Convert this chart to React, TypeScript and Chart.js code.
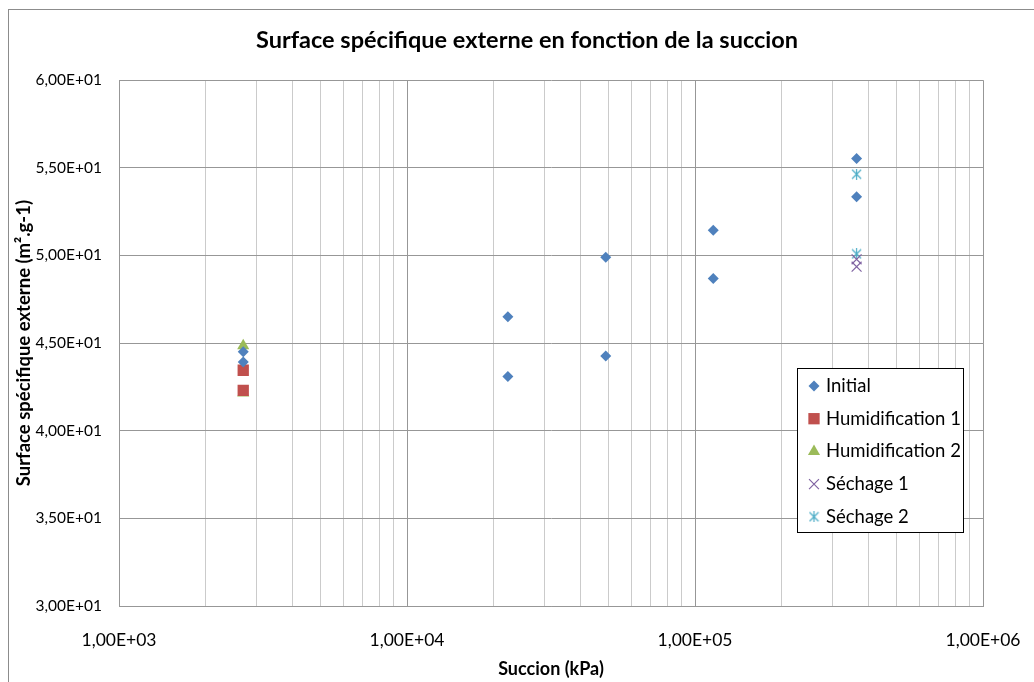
import React, { useEffect, useRef } from 'react';
import { Chart, registerables } from 'chart.js';
import { drawPoint } from 'chart.js/helpers';

Chart.register(...registerables);

// ---------- data ----------
const seriesNames = ['Initial', 'Humidification 1', 'Humidification 2', 'Séchage 1', 'Séchage 2'];

const initialX = [2700, 2700, 22400, 22400, 49000, 49000, 115700, 115700, 364000, 364000];
const initialY = [44.5, 43.92, 46.51, 43.1, 49.9, 44.26, 51.44, 48.69, 55.53, 53.35];

const humid1X = [2700, 2700];
const humid1Y = [43.45, 42.3];

const humid2X = [2700, 2700];
const humid2Y = [44.85, 42.15];

const sech1X = [364000, 364000];
const sech1Y = [49.78, 49.36];

const sech2X = [364000, 364000];
const sech2Y = [54.64, 50.09];

const xMajorTicks = [1e3, 1e4, 1e5, 1e6];
const yTickValues = [30, 35, 40, 45, 50, 55, 60];

const titleText = 'Surface spécifique externe en fonction de la succion';
const xTitle = 'Succion (kPa)';
const yTitle = 'Surface spécifique externe (m².g-1)';

// ---------- styles ----------
const FONT = 'Lato';
const MAJOR = '#979797';
const MINOR = '#cbcbcb';
const colors = ['#4F81BD', '#C0504D', '#9BBB59', '#8064A2', '#4BACC6'];

function sci(v: number): string {
  const e = Math.floor(Math.log10(v) + 1e-9);
  const m = v / Math.pow(10, e);
  return `${m.toFixed(2).replace('.', ',')}E${e < 0 ? '-' : '+'}${String(Math.abs(e)).padStart(2, '0')}`;
}

function isPow10(v: number): boolean {
  return xMajorTicks.some((t) => Math.abs(t - v) < 1e-6 * t);
}

function xGridValues(): number[] {
  const out: number[] = [];
  for (let i = 0; i < xMajorTicks.length - 1; i++) {
    for (let k = 1; k <= 9; k++) out.push(k * xMajorTicks[i]);
  }
  out.push(xMajorTicks[xMajorTicks.length - 1]);
  return out;
}

function makeAsterisk(color: string): HTMLCanvasElement {
  const c = document.createElement('canvas');
  c.width = 11;
  c.height = 11;
  const g = c.getContext('2d')!;
  g.strokeStyle = color;
  g.lineWidth = 1.2;
  g.beginPath();
  g.moveTo(1, 1);
  g.lineTo(10, 10);
  g.moveTo(10, 1);
  g.lineTo(1, 10);
  g.moveTo(5.5, 0);
  g.lineTo(5.5, 11);
  g.stroke();
  return c;
}

const framePlugin = {
  id: 'frame',
  beforeDraw(chart: any) {
    const { ctx, width, height } = chart;
    ctx.save();
    ctx.fillStyle = '#ffffff';
    ctx.fillRect(0, 0, width, height);
    ctx.strokeStyle = '#8c8c8c';
    ctx.lineWidth = 1;
    ctx.strokeRect(8.5, 9.5, width + 50, height + 50);
    ctx.restore();
  },
};

const legendPlugin = {
  id: 'boxLegend',
  afterDraw(chart: any) {
    const { ctx, chartArea } = chart;
    const x0 = Math.round(chartArea.right - 186);
    const y0 = Math.round(chartArea.top + 288);
    const w = 166;
    const h = 164;
    ctx.save();
    ctx.fillStyle = '#ffffff';
    ctx.fillRect(x0, y0, w, h);
    ctx.strokeStyle = '#000000';
    ctx.lineWidth = 1;
    ctx.strokeRect(x0 + 0.5, y0 + 0.5, w, h);
    chart.data.datasets.forEach((ds: any, i: number) => {
      const cy = y0 + 18 + i * 32.7;
      ctx.fillStyle = ds.backgroundColor;
      ctx.strokeStyle = ds.borderColor;
      ctx.lineWidth = ds.pointBorderWidth;
      drawPoint(ctx, {
        pointStyle: ds.pointStyle,
        radius: ds.pointRadius,
        borderWidth: ds.pointBorderWidth,
        rotation: 0,
      } as any, x0 + 17, cy);
      ctx.fillStyle = '#000000';
      ctx.font = `18.5px ${FONT}`;
      ctx.textBaseline = 'middle';
      ctx.textAlign = 'left';
      ctx.fillText(ds.label, x0 + 29, cy);
    });
    ctx.restore();
  },
};

function pts(xs: number[], ys: number[]) {
  return xs.map((x, i) => ({ x, y: ys[i] }));
}

export default function App() {
  const ref = useRef<HTMLCanvasElement>(null);

  useEffect(() => {
    document.body.style.margin = '0';
    const star = makeAsterisk(colors[4]);
    const c2d = ref.current!.getContext('2d') as any;
    if (c2d && 'letterSpacing' in c2d) c2d.letterSpacing = '0.01px';
    const chart = new Chart(ref.current!, {
      type: 'scatter',
      data: {
        datasets: [
          {
            label: seriesNames[0],
            data: pts(initialX, initialY),
            pointStyle: 'rectRot',
            pointRadius: 5.5,
            pointBorderWidth: 0,
            backgroundColor: colors[0],
            borderColor: colors[0],
          },
          {
            label: seriesNames[1],
            data: pts(humid1X, humid1Y),
            pointStyle: 'rect',
            pointRadius: 8,
            pointBorderWidth: 0,
            backgroundColor: colors[1],
            borderColor: colors[1],
          },
          {
            label: seriesNames[2],
            data: pts(humid2X, humid2Y),
            pointStyle: 'triangle',
            pointRadius: 7,
            pointBorderWidth: 0,
            backgroundColor: colors[2],
            borderColor: colors[2],
          },
          {
            label: seriesNames[3],
            data: pts(sech1X, sech1Y),
            pointStyle: 'crossRot',
            pointRadius: 7,
            pointBorderWidth: 1.2,
            backgroundColor: colors[3],
            borderColor: colors[3],
          },
          {
            label: seriesNames[4],
            data: pts(sech2X, sech2Y),
            pointStyle: star as any,
            pointRadius: 6,
            pointBorderWidth: 1.2,
            backgroundColor: colors[4],
            borderColor: colors[4],
          },
        ] as any,
      },
      options: {
        responsive: false,
        animation: false,
        layout: { padding: { left: 20, right: 0, top: 0, bottom: 0 } },
        plugins: {
          legend: { display: false },
          tooltip: { enabled: false },
          title: {
            display: true,
            text: titleText,
            color: '#000000',
            font: { family: FONT, size: 23.5, weight: 'bold' },
            padding: { top: 26, bottom: 26 },
          },
        },
        scales: {
          x: {
            type: 'logarithmic',
            min: xMajorTicks[0],
            max: xMajorTicks[xMajorTicks.length - 1],
            afterBuildTicks: (scale: any) => {
              scale.ticks = xGridValues().map((v) => ({ value: v, major: isPow10(v) }));
            },
            afterFit: (scale: any) => {
              scale.height = 76;
              scale.paddingRight = 51;
            },
            ticks: {
              autoSkip: false,
              maxRotation: 0,
              minRotation: 0,
              padding: 24,
              color: '#000000',
              font: { family: FONT, size: 17.5 },
              callback: (v: any) => (isPow10(Number(v)) ? sci(Number(v)) : ''),
            },
            grid: {
              drawTicks: false,
              lineWidth: 1,
              color: (ctx: any) => (ctx.tick && isPow10(ctx.tick.value) ? MAJOR : MINOR),
            },
            border: { color: MAJOR, width: 1 },
            title: {
              display: true,
              text: xTitle,
              color: '#000000',
              font: { family: FONT, size: 18, weight: 'bold' },
              padding: { top: 0, bottom: 2 },
            },
          },
          y: {
            type: 'linear',
            min: yTickValues[0],
            max: yTickValues[yTickValues.length - 1],
            afterBuildTicks: (scale: any) => {
              scale.ticks = yTickValues.map((v) => ({ value: v }));
            },
            afterFit: (scale: any) => {
              scale.width = 99;
            },
            ticks: {
              padding: 17,
              color: '#000000',
              font: { family: FONT, size: 15.5 },
              callback: (v: any) => sci(Number(v)),
            },
            grid: { drawTicks: false, color: MAJOR, lineWidth: 1 },
            border: { color: MAJOR, width: 1 },
            title: {
              display: true,
              text: yTitle,
              color: '#000000',
              font: { family: FONT, size: 18.5, weight: 'bold', lineHeight: 0.45 },
              padding: { top: 0, bottom: 0 },
            },
          },
        },
      } as any,
      plugins: [framePlugin, legendPlugin],
    });
    return () => chart.destroy();
  }, []);

  return (
    <div style={{ position: 'absolute', left: 0, top: 0, width: 1034, height: 682 }}>
      <canvas ref={ref} width={1034} height={682} style={{ width: 1034, height: 682, display: 'block' }} />
    </div>
  );
}
